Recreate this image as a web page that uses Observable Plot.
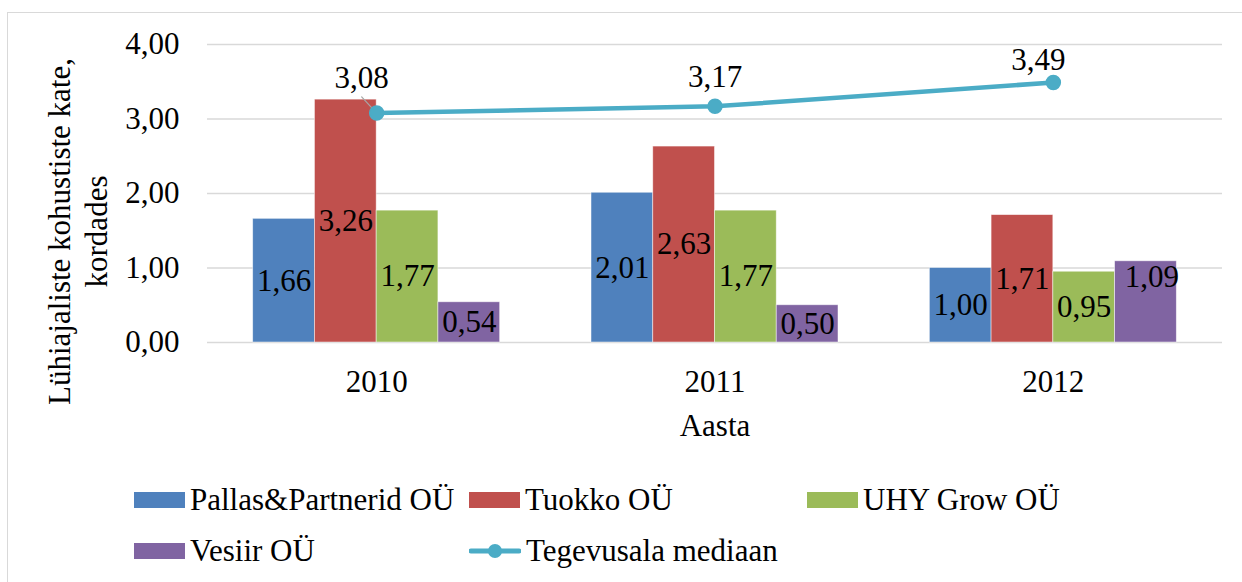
<!DOCTYPE html>
<html>
<head>
<meta charset="utf-8">
<script src="https://cdn.jsdelivr.net/npm/d3@7"></script>
<script src="https://cdn.jsdelivr.net/npm/@observablehq/plot@0.6"></script>
<style>
  html, body { margin: 0; padding: 0; background: #fff; }
  #wrap { position: relative; width: 1242px; height: 582px; overflow: hidden; font-family: "Liberation Serif", "Times New Roman", serif; }
  #frame { position: absolute; left: 7px; top: 12px; width: 1300px; height: 700px; border: 1.5px solid #D9D9D9; box-sizing: border-box; }
  #chart { position: absolute; left: 0; top: 0; }
  .lg { position: absolute; display: flex; align-items: center; font-size: 31px; line-height: 40px; color: #000; white-space: nowrap; height: 40px; }
  .sw { width: 51px; height: 16px; margin-right: 5px; flex: none; }
  .lsw { width: 52px; height: 16px; margin-right: 5px; flex: none; }
</style>
</head>
<body>
<div id="wrap">
  <div id="frame"></div>
  <div id="chart"></div>
  <div id="legend"></div>
</div>
<script>
// ---- data ----
const years = [2010, 2011, 2012];
const series = ["Pallas&Partnerid OÜ", "Tuokko OÜ", "UHY Grow OÜ", "Vesiir OÜ"];
const pallas = [1.66, 2.01, 1.00];
const tuokko = [3.26, 2.63, 1.71];
const uhy = [1.77, 1.77, 0.95];
const vesiir = [0.54, 0.50, 1.09];
const medianName = "Tegevusala mediaan";
const median = [3.08, 3.17, 3.49];
const yTicks = [0, 1, 2, 3, 4];
const yTitle = "Lühiajaliste kohustiste kate,\nkordades";
const xTitle = "Aasta";

// ---- styling ----
const colors = ["#4F81BD", "#C0504D", "#9BBB59", "#8064A2"];
const lineColor = "#4BACC6";
const fontFamily = '"Liberation Serif", "Times New Roman", serif';
const fs = 31;
const barW = 0.1825; // fraction of a category per bar
const barLabelAtTop = new Set(["Vesiir OÜ|2012"]);
const medianLabelDx = [-15, 0, -15];
const medianLabelDy = [-25, -19, -12];

const fmt = v => d3.format(".2f")(v).replace(".", ",");
const seriesValues = [pallas, tuokko, uhy, vesiir];

const bars = [];
years.forEach((yr, yi) => {
  seriesValues.forEach((vals, si) => {
    const x1 = yi + (si - 2) * barW;
    bars.push({year: yr, yi, si, series: series[si], value: vals[yi], x1, x2: x1 + barW, xc: x1 + barW / 2});
  });
});
const med = years.map((yr, yi) => ({year: yr, yi, value: median[yi]}));
const centreLabels = bars.filter(d => !barLabelAtTop.has(d.series + "|" + d.year));
const topLabels = bars.filter(d => barLabelAtTop.has(d.series + "|" + d.year));

function build(withLeader) {
  const leader = withLeader ? [Plot.vector([med[0]], {x: "yi", y: "value", length: 22, rotate: -43, anchor: "start",
    stroke: "#A6A6A6", strokeWidth: 1.2,
    shape: {draw(context, l) { context.moveTo(0, 0); context.lineTo(0, -l); }}})] : [];
  return Plot.plot({
    width: 1242,
    height: 582,
    marginLeft: 207,
    marginRight: 20,
    marginTop: 44,
    marginBottom: 240,
    style: {fontFamily, fontSize: fs + "px", color: "#000", background: "transparent", overflow: "visible"},
    x: {type: "linear", domain: [-0.5, 2.5], axis: null},
    y: {domain: [0, 4], axis: null},
    color: {domain: series, range: colors},
    marks: [
      Plot.gridY(yTicks, {stroke: "#D9D9D9", strokeOpacity: 1, strokeWidth: 1.5}),
      Plot.axisY(yTicks, {tickSize: 0, tickPadding: 28, tickFormat: fmt, fontSize: fs, label: null}),
      Plot.axisX([0, 1, 2], {tickSize: 0, tickPadding: 27, tickFormat: i => String(years[i]), fontSize: fs, label: null}),
      Plot.rectY(bars, {x1: "x1", x2: "x2", y: "value", fill: "series", stroke: "#fff", strokeWidth: 0.8, strokeOpacity: 0.6}),
      Plot.text(centreLabels, {x: "xc", y: d => d.value / 2, text: d => fmt(d.value), fontSize: fs, fill: "#000", lineAnchor: "middle"}),
      Plot.text(topLabels, {x: "xc", y: "value", text: d => fmt(d.value), fontSize: fs, fill: "#000", lineAnchor: "top", dx: 6, dy: 4}),
      ...leader,
      Plot.line(med, {x: "yi", y: "value", stroke: lineColor, strokeWidth: 4.5}),
      Plot.dot(med, {x: "yi", y: "value", r: 7, fill: lineColor, stroke: lineColor}),
      ...med.map((d, i) => Plot.text([d], {x: "yi", y: "value", text: d => fmt(d.value), fontSize: fs, fill: "#000",
        lineAnchor: "bottom", dx: medianLabelDx[i], dy: medianLabelDy[i]})),
      Plot.text([xTitle], {frameAnchor: "bottom", text: d => d, fontSize: fs, fill: "#000", lineAnchor: "top", dy: 71}),
      Plot.text([yTitle], {frameAnchor: "left", text: d => d, rotate: -90, fontSize: fs, fill: "#000",
        lineAnchor: "top", lineHeight: 1.17, textAnchor: "middle", dx: -163, dy: 38})
    ]
  });
}
let chart;
try { chart = build(true); } catch (e) { chart = build(false); }
document.getElementById("chart").appendChild(chart);

// ---- legend ----
const legendItems = series.map((s, i) => ({name: s, color: colors[i], type: "bar"}))
  .concat([{name: medianName, color: lineColor, type: "line"}]);
const colX = [134, 469, 807];
const rowY = [480, 531];
const legend = document.getElementById("legend");
legendItems.forEach((it, i) => {
  const el = document.createElement("div");
  el.className = "lg";
  el.style.left = colX[i % 3] + "px";
  el.style.top = rowY[Math.floor(i / 3)] + "px";
  if (it.type === "bar") {
    const sw = document.createElement("div");
    sw.className = "sw";
    sw.style.background = it.color;
    el.appendChild(sw);
  } else {
    const ns = "http://www.w3.org/2000/svg";
    const svg = document.createElementNS(ns, "svg");
    svg.setAttribute("width", 52); svg.setAttribute("height", 16);
    svg.setAttribute("class", "lsw");
    const ln = document.createElementNS(ns, "line");
    ln.setAttribute("x1", 2); ln.setAttribute("x2", 50); ln.setAttribute("y1", 8); ln.setAttribute("y2", 8);
    ln.setAttribute("stroke", it.color); ln.setAttribute("stroke-width", 5); ln.setAttribute("stroke-linecap", "round");
    const c = document.createElementNS(ns, "circle");
    c.setAttribute("cx", 26); c.setAttribute("cy", 8); c.setAttribute("r", 7); c.setAttribute("fill", it.color);
    svg.appendChild(ln); svg.appendChild(c);
    el.appendChild(svg);
  }
  const t = document.createElement("span");
  t.textContent = it.name;
  el.appendChild(t);
  legend.appendChild(el);
});
</script>
</body>
</html>
